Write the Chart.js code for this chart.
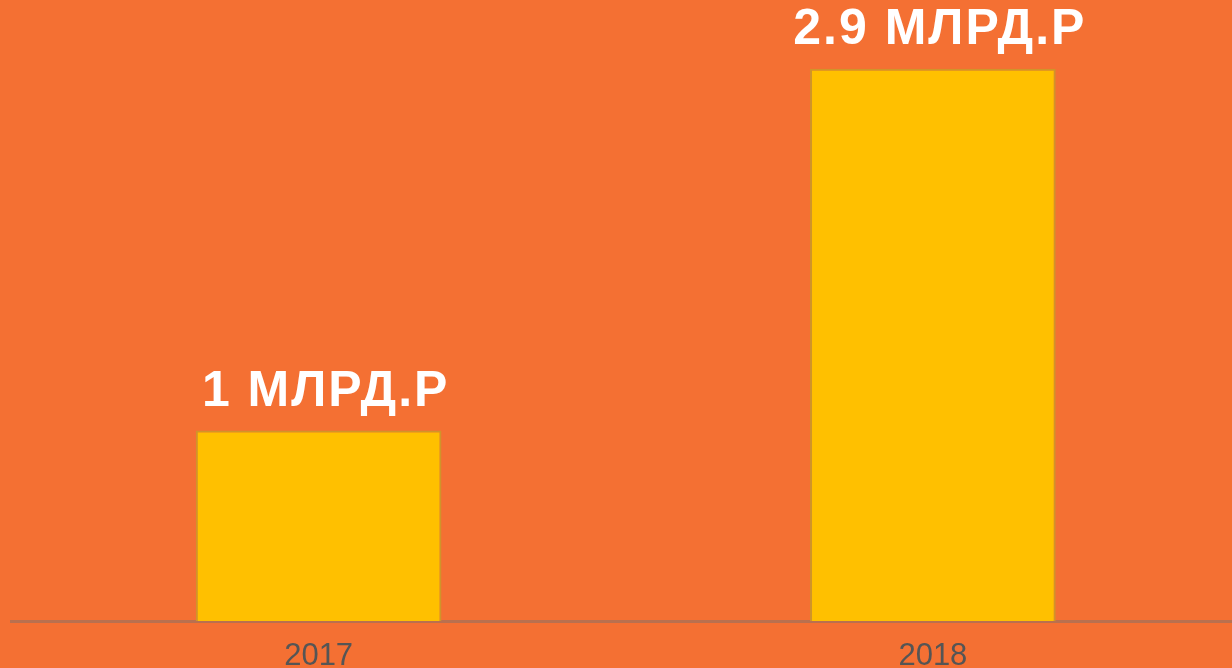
<!DOCTYPE html>
<html><head><meta charset="utf-8">
<script src="https://cdn.jsdelivr.net/npm/chart.js@4"></script>
<style>
html,body{margin:0;padding:0;background:#F47033;overflow:hidden;width:1232px;height:668px;}
canvas{display:block;}
</style></head>
<body>
<canvas id="c" width="1240" height="668"></canvas>
<script>
const categories = ["2017", "2018"];
const values = [1, 2.9];
const valueLabels = ["1 МЛРД.Р", "2.9 МЛРД.Р"];

const topLabels = {
  id: 'topLabels',
  afterDatasetsDraw(chart) {
    const ctx = chart.ctx;
    const meta = chart.getDatasetMeta(0);
    ctx.save();
    ctx.fillStyle = '#FFFFFF';
    ctx.font = 'bold 50px "Liberation Sans", Arial, sans-serif';
    ctx.letterSpacing = '2px';
    ctx.textAlign = 'center';
    ctx.textBaseline = 'alphabetic';
    meta.data.forEach((bar, i) => {
      ctx.fillText(valueLabels[i], bar.x + 7, bar.y - 25);
    });
    ctx.restore();
  }
};

new Chart(document.getElementById('c'), {
  type: 'bar',
  data: {
    labels: categories,
    datasets: [{
      data: values,
      backgroundColor: '#FFC000',
      borderColor: '#D0942A',
      borderWidth: 2,
      barPercentage: 0.4,
      categoryPercentage: 1.0
    }]
  },
  options: {
    responsive: false,
    animation: false,
    layout: { padding: { left: 11.5, right: 0, top: 2, bottom: 0 } },
    plugins: { legend: { display: false }, tooltip: { enabled: false } },
    scales: {
      x: {
        grid: { display: false },
        border: { display: true, color: '#B9704F', width: 3 },
        ticks: {
          color: '#555555',
          font: { family: '"Liberation Sans", Arial, sans-serif', size: 31 },
          padding: 9
        },
        afterFit: s => { s.height = 47; }
      },
      y: {
        display: false,
        min: 0,
        max: 3.25
      }
    }
  },
  plugins: [topLabels]
});
</script>
</body></html>
